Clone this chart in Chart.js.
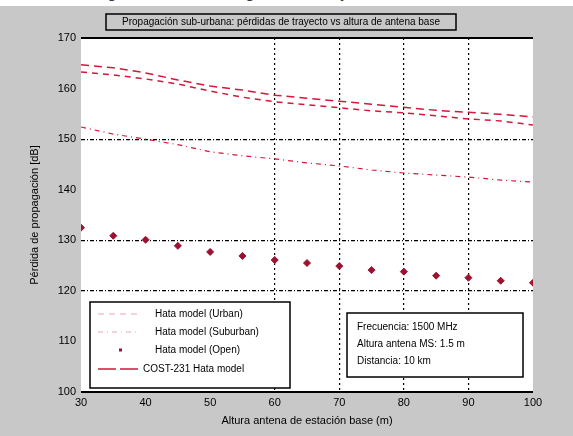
<!DOCTYPE html>
<html>
<head>
<meta charset="utf-8">
<script src="https://cdn.jsdelivr.net/npm/chart.js@4.4.1/dist/chart.umd.min.js"></script>
<style>
  html, body { margin: 0; padding: 0; background: #c8c8c8; }
  #wrap { position: relative; width: 573px; height: 436px; overflow: hidden; }
  #top-strip {
    position: absolute; left: 0; top: 0; width: 573px; height: 6px;
    background: #fff; overflow: hidden; z-index: 2;
  }
  #top-strip span {
    position: absolute; left: 95px; top: -17px; white-space: nowrap;
    font: italic 16px "Liberation Serif", serif; color: #222;
  }
  canvas { position: absolute; left: 0; top: 0; }
</style>
</head>
<body>
<div id="wrap">
  <div id="top-strip"><span>Figura 4.6: Pérdidas según el modelo y la altura de la antena base, ciudad mediana</span></div>
  <canvas id="chart" width="573" height="436"></canvas>
</div>
<script>
// altura de antena base (m)
const alturas = [30, 35, 40, 45, 50, 55, 60, 65, 70, 75, 80, 85, 90, 95, 100];
const xTicks = [30, 40, 50, 60, 70, 80, 90, 100];
const yTicks = [100, 110, 120, 130, 140, 150, 160, 170];

// pérdidas (dB)
const hataUrbano = [163.3, 162.7, 161.9, 160.9, 159.5, 158.3, 157.4, 156.8, 156.2, 155.6, 155.2, 154.6, 154.0, 153.6, 152.8];
const hataSuburbano = [152.4, 151.0, 150.0, 148.9, 147.5, 146.7, 146.1, 145.3, 144.7, 143.9, 143.3, 142.9, 142.5, 141.9, 141.5];
const hataAbierto = [132.5, 130.9, 130.1, 128.9, 127.7, 126.9, 126.1, 125.5, 124.9, 124.1, 123.8, 123.0, 122.6, 122.0, 121.6];
const cost231 = [164.7, 164.1, 163.1, 161.7, 160.5, 159.7, 158.7, 158.1, 157.5, 156.9, 156.3, 155.7, 155.3, 154.9, 154.4];

const nombres = ["Hata model (Urban)", "Hata model (Suburban)", "Hata model (Open)", "COST-231 Hata model"];
const titulo = "Propagación sub-urbana: pérdidas de trayecto vs altura de antena base";
const infoLineas = ["Frecuencia: 1500 MHz", "Altura antena MS: 1.5 m", "Distancia: 10 km"];

// líneas de rejilla visibles en la figura
const gridX = [60, 70, 80, 90];
const gridY = [120, 130, 150];

const RED = "#d4173a";
const DARK_RED = "#9e1230";
const FONT = "Liberation Sans";

const fondo = {
  id: "fondo",
  beforeDraw(chart) {
    const { ctx, chartArea: a } = chart;
    ctx.save();
    ctx.fillStyle = "#c8c8c8";
    ctx.fillRect(0, 0, chart.width, chart.height);
    ctx.fillStyle = "#fff";
    ctx.fillRect(a.left, a.top, a.right - a.left, a.bottom - a.top);
    ctx.restore();
  },
};

const cajas = {
  id: "cajas",
  afterDraw(chart) {
    const { ctx, chartArea: a } = chart;
    ctx.save();

    // ejes superior e inferior
    ctx.strokeStyle = "#000";
    ctx.lineWidth = 2;
    ctx.beginPath();
    ctx.moveTo(a.left, a.top);
    ctx.lineTo(a.right, a.top);
    ctx.moveTo(a.left, a.bottom);
    ctx.lineTo(a.right, a.bottom);
    ctx.stroke();

    // título en caja
    ctx.fillStyle = "#c8c8c8";
    ctx.lineWidth = 1.5;
    ctx.fillRect(106, 14, 350, 16);
    ctx.strokeRect(106, 14, 350, 16);
    ctx.fillStyle = "#000";
    ctx.font = "10px " + FONT;
    ctx.textAlign = "center";
    ctx.textBaseline = "middle";
    ctx.fillText(titulo, 281, 22.5);

    // leyenda
    const lx = 90, ly = 302, lw = 200, lh = 86;
    ctx.fillStyle = "#fff";
    ctx.fillRect(lx, ly, lw, lh);
    ctx.strokeStyle = "#000";
    ctx.lineWidth = 1.5;
    ctx.strokeRect(lx, ly, lw, lh);
    const filas = [314, 332, 350, 369];
    chart.data.datasets.forEach((ds, i) => {
      const y = filas[i];
      ctx.save();
      if (ds.showLine === false) {
        ctx.fillStyle = ds.pointBackgroundColor;
        ctx.fillRect(119, y - 1.5, 3, 3);
      } else {
        ctx.strokeStyle = ds.borderColor;
        ctx.globalAlpha = i === 3 ? 1 : 0.25;
        ctx.lineWidth = 1.5;
        ctx.setLineDash(i === 3 ? [18, 4] : ds.borderDash);
        ctx.beginPath();
        ctx.moveTo(98, y);
        ctx.lineTo(138, y);
        ctx.stroke();
      }
      ctx.restore();
      ctx.fillStyle = "#000";
      ctx.font = "10px " + FONT;
      ctx.textAlign = "left";
      ctx.textBaseline = "middle";
      ctx.fillText(ds.label, i === 3 ? 143 : 155, y);
    });

    // caja de información
    ctx.fillStyle = "#fff";
    ctx.fillRect(347, 313, 176, 64);
    ctx.strokeRect(347, 313, 176, 64);
    ctx.fillStyle = "#000";
    infoLineas.forEach((t, i) => ctx.fillText(t, 357, 327 + i * 17));

    ctx.restore();
  },
};

new Chart(document.getElementById("chart"), {
  type: "line",
  data: {
    labels: alturas,
    datasets: [
      {
        label: nombres[0],
        data: hataUrbano,
        borderColor: RED,
        borderWidth: 1.5,
        borderDash: [6, 5],
        pointRadius: 0,
        fill: false,
      },
      {
        label: nombres[1],
        data: hataSuburbano,
        borderColor: RED,
        borderWidth: 1.2,
        borderDash: [5, 4, 1, 4],
        pointRadius: 0,
        fill: false,
      },
      {
        label: nombres[2],
        data: hataAbierto,
        showLine: false,
        pointStyle: "rectRot",
        pointRadius: 3.5,
        pointBackgroundColor: DARK_RED,
        pointBorderColor: DARK_RED,
      },
      {
        label: nombres[3],
        data: cost231,
        borderColor: RED,
        borderWidth: 1.5,
        borderDash: [8, 5],
        pointRadius: 0,
        fill: false,
      },
    ],
  },
  options: {
    responsive: false,
    devicePixelRatio: 1,
    animation: false,
    layout: { padding: { top: 38, right: 40, left: 0, bottom: 0 } },
    plugins: {
      legend: { display: false },
      title: { display: false },
      tooltip: { enabled: false },
    },
    scales: {
      x: {
        type: "linear",
        min: 30,
        max: 100,
        afterBuildTicks: (s) => { s.ticks = xTicks.map((v) => ({ value: v })); },
        afterFit: (s) => { s.height = 44; },
        ticks: { color: "#000", padding: 4, font: { family: FONT, size: 11 } },
        grid: {
          drawTicks: false,
          lineWidth: 1.2,
          color: (c) => (gridX.includes(c.tick.value) ? "#000" : "rgba(0,0,0,0)"),
        },
        border: { display: false, dash: [2, 3] },
        title: {
          display: true,
          text: "Altura antena de estación base (m)",
          color: "#000",
          font: { family: FONT, size: 11 },
          padding: { top: 0, bottom: 8 },
        },
      },
      y: {
        min: 100,
        max: 170,
        afterBuildTicks: (s) => { s.ticks = yTicks.map((v) => ({ value: v })); },
        afterFit: (s) => { s.width = 81; },
        ticks: { color: "#000", padding: 5, font: { family: FONT, size: 11 } },
        grid: {
          drawTicks: false,
          lineWidth: 1.2,
          color: (c) => (gridY.includes(c.tick.value) ? "#000" : "rgba(0,0,0,0)"),
        },
        border: { display: false, dash: [4, 2, 1, 2] },
        title: {
          display: true,
          text: "Pérdida de propagación [dB]",
          color: "#000",
          font: { family: FONT, size: 11 },
          padding: { top: 28, bottom: 0 },
        },
      },
    },
  },
  plugins: [fondo, cajas],
});
</script>
</body>
</html>
